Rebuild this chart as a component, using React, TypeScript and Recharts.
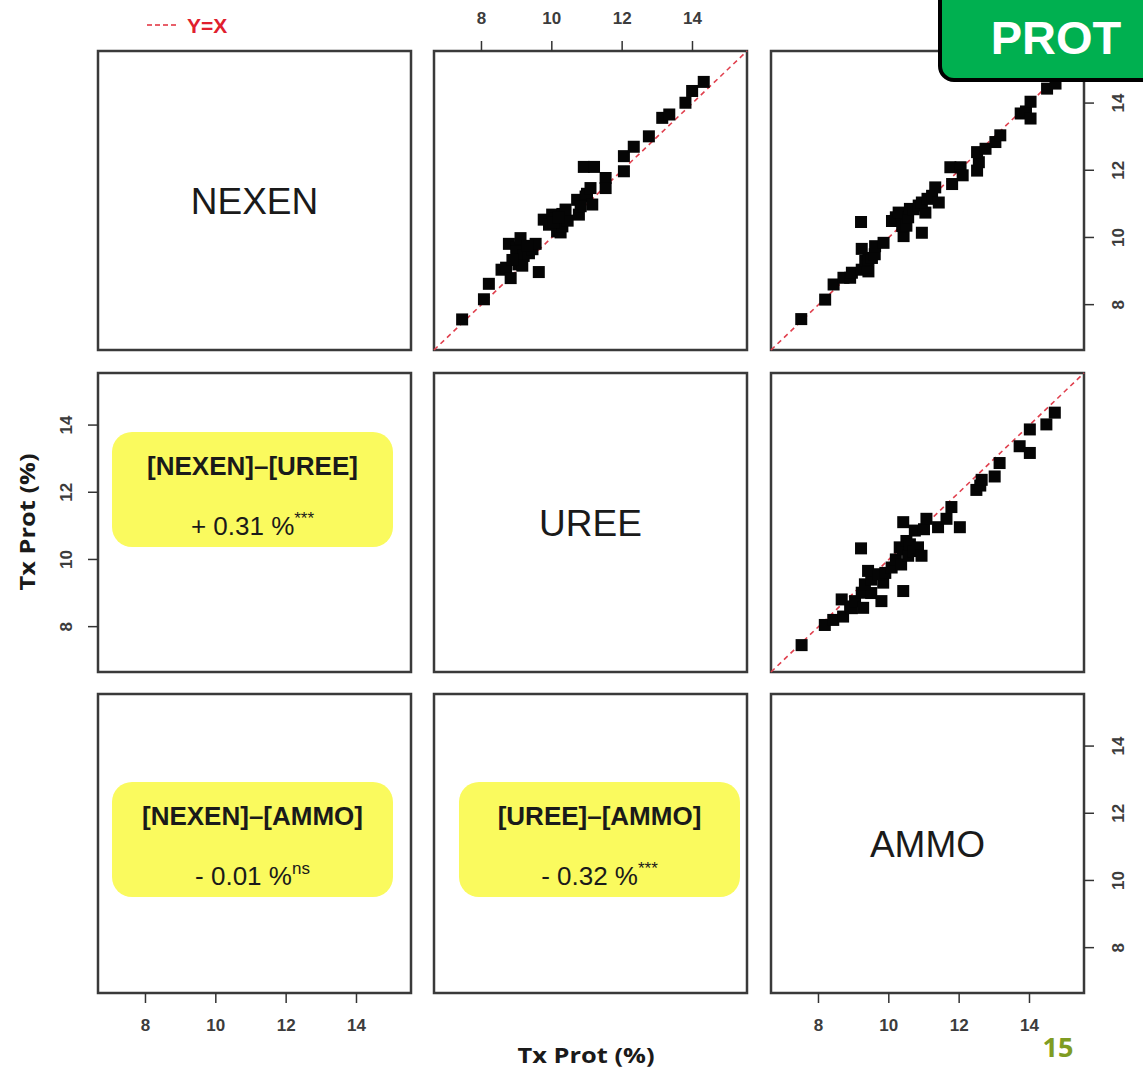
import React from 'react';
import { ScatterChart, Scatter, XAxis, YAxis, ReferenceLine, ReferenceArea } from 'recharts';

// Shared axis range for every panel of the pairs plot (protein rate, %)
const DOMAIN: [number, number] = [6.65, 15.55];
const TICKS = [8, 10, 12, 14];
const VARIABLES = ['NEXEN', 'UREE', 'AMMO'];

// Row 1, column 2: x = UREE, y = NEXEN
const nexenVsUree = [
  { x: 7.45, y: 7.56 }, { x: 8.07, y: 8.16 }, { x: 8.21, y: 8.62 }, { x: 8.57, y: 9.04 },
  { x: 8.7, y: 9.1 }, { x: 8.83, y: 8.79 }, { x: 8.78, y: 9.81 }, { x: 9.0, y: 9.7 },
  { x: 9.11, y: 9.98 }, { x: 8.99, y: 9.58 }, { x: 9.05, y: 9.2 }, { x: 9.2, y: 9.45 },
  { x: 9.16, y: 9.16 }, { x: 8.88, y: 9.33 }, { x: 9.35, y: 9.53 }, { x: 9.45, y: 9.65 },
  { x: 9.54, y: 9.81 }, { x: 9.3, y: 9.75 }, { x: 9.63, y: 8.97 }, { x: 9.77, y: 10.53 },
  { x: 10.01, y: 10.68 }, { x: 10.1, y: 10.55 }, { x: 10.15, y: 10.18 }, { x: 10.25, y: 10.15 },
  { x: 10.3, y: 10.33 }, { x: 10.3, y: 10.7 }, { x: 10.45, y: 10.5 }, { x: 10.39, y: 10.83 },
  { x: 9.92, y: 10.38 }, { x: 10.05, y: 10.45 }, { x: 10.2, y: 10.6 }, { x: 10.77, y: 10.68 },
  { x: 10.72, y: 11.12 }, { x: 10.96, y: 11.22 }, { x: 11.0, y: 11.3 }, { x: 11.1, y: 11.47 },
  { x: 11.15, y: 10.98 }, { x: 10.82, y: 10.93 }, { x: 10.91, y: 12.1 }, { x: 11.2, y: 12.1 },
  { x: 11.53, y: 11.77 }, { x: 11.53, y: 11.47 }, { x: 12.05, y: 11.97 }, { x: 12.05, y: 12.42 },
  { x: 12.33, y: 12.7 }, { x: 12.76, y: 13.01 }, { x: 13.14, y: 13.56 }, { x: 13.34, y: 13.66 },
  { x: 13.8, y: 14.01 }, { x: 13.99, y: 14.36 }, { x: 14.32, y: 14.63 },
];

// Row 1, column 3: x = AMMO, y = NEXEN
const nexenVsAmmo = [
  { x: 7.51, y: 7.57 }, { x: 8.19, y: 8.15 }, { x: 8.43, y: 8.6 }, { x: 8.71, y: 8.8 },
  { x: 8.9, y: 8.8 }, { x: 8.95, y: 8.95 }, { x: 9.23, y: 9.04 }, { x: 9.42, y: 8.99 },
  { x: 9.4, y: 9.1 }, { x: 9.33, y: 9.3 }, { x: 9.42, y: 9.34 }, { x: 9.52, y: 9.39 },
  { x: 9.6, y: 9.5 }, { x: 9.23, y: 9.66 }, { x: 9.61, y: 9.74 }, { x: 9.85, y: 9.84 },
  { x: 9.21, y: 10.46 }, { x: 10.09, y: 10.49 }, { x: 10.2, y: 10.6 }, { x: 10.35, y: 10.5 },
  { x: 10.28, y: 10.74 }, { x: 10.42, y: 10.04 }, { x: 10.38, y: 10.34 }, { x: 10.5, y: 10.35 },
  { x: 10.55, y: 10.6 }, { x: 10.6, y: 10.85 }, { x: 10.71, y: 10.84 }, { x: 10.85, y: 10.95 },
  { x: 10.94, y: 10.14 }, { x: 11.04, y: 10.74 }, { x: 10.94, y: 11.04 }, { x: 11.1, y: 11.15 },
  { x: 11.23, y: 11.24 }, { x: 11.32, y: 11.49 }, { x: 11.42, y: 11.04 }, { x: 11.8, y: 11.59 },
  { x: 11.75, y: 12.09 }, { x: 12.04, y: 12.09 }, { x: 12.1, y: 11.85 }, { x: 12.51, y: 11.99 },
  { x: 12.56, y: 12.24 }, { x: 12.51, y: 12.54 }, { x: 12.75, y: 12.64 }, { x: 13.03, y: 12.84 },
  { x: 13.17, y: 13.04 }, { x: 13.75, y: 13.69 }, { x: 13.9, y: 13.75 }, { x: 14.03, y: 13.54 },
  { x: 14.03, y: 14.04 }, { x: 14.5, y: 14.43 }, { x: 14.74, y: 14.58 }, { x: 15.0, y: 14.95 },
];

// Row 2, column 3: x = AMMO, y = UREE
const ureeVsAmmo = [
  { x: 7.52, y: 7.45 }, { x: 8.18, y: 8.05 }, { x: 8.42, y: 8.2 }, { x: 8.7, y: 8.3 },
  { x: 8.66, y: 8.81 }, { x: 8.9, y: 8.6 }, { x: 8.95, y: 8.55 }, { x: 9.04, y: 8.76 },
  { x: 9.27, y: 8.56 }, { x: 9.23, y: 9.01 }, { x: 9.5, y: 9.0 }, { x: 9.79, y: 8.76 },
  { x: 9.32, y: 9.26 }, { x: 9.5, y: 9.4 }, { x: 9.84, y: 9.31 }, { x: 9.41, y: 9.66 },
  { x: 9.7, y: 9.56 }, { x: 9.9, y: 9.6 }, { x: 9.21, y: 10.33 }, { x: 10.08, y: 9.76 },
  { x: 10.2, y: 10.0 }, { x: 10.35, y: 9.85 }, { x: 10.41, y: 9.06 }, { x: 10.31, y: 10.36 },
  { x: 10.4, y: 10.3 }, { x: 10.5, y: 10.55 }, { x: 10.55, y: 10.11 }, { x: 10.6, y: 10.45 },
  { x: 10.7, y: 10.25 }, { x: 10.83, y: 10.36 }, { x: 10.93, y: 10.11 }, { x: 10.41, y: 11.11 },
  { x: 10.74, y: 10.86 }, { x: 11.0, y: 10.9 }, { x: 11.07, y: 11.21 }, { x: 11.4, y: 10.96 },
  { x: 11.64, y: 11.21 }, { x: 11.78, y: 11.56 }, { x: 12.02, y: 10.96 }, { x: 12.49, y: 12.07 },
  { x: 12.6, y: 12.2 }, { x: 12.64, y: 12.37 }, { x: 13.01, y: 12.47 }, { x: 13.15, y: 12.87 },
  { x: 13.72, y: 13.37 }, { x: 14.01, y: 13.17 }, { x: 14.01, y: 13.87 }, { x: 14.48, y: 14.02 },
  { x: 14.72, y: 14.37 },
];

// Pairwise mean differences shown in the lower triangle
const comparisonLabels = ['[NEXEN]–[UREE]', '[NEXEN]–[AMMO]', '[UREE]–[AMMO]'];
const comparisonDiffs = ['+ 0.31 %', '- 0.01 %', '- 0.32 %'];
const comparisonSignif = ['***', 'ns', '***'];

// Layout of the 3 x 3 grid
const COL_X = [98, 434, 771];
const ROW_Y = [51, 373, 694];
const PANEL_W = 313;
const PANEL_H = 299;
const PAD = 60;
const AX = 40;

const SANS = "Arial, 'Liberation Sans', sans-serif";
const tickStyle = { fontFamily: SANS, fontSize: 17, fontWeight: 700, fill: '#3c3c3c' };

const TopTick = (p: any) => (
  <text x={p.x} y={p.y} dy={-15} textAnchor="middle" {...tickStyle}>{p.payload.value}</text>
);
const BottomTick = (p: any) => (
  <text x={p.x} y={p.y} dy={26} textAnchor="middle" {...tickStyle}>{p.payload.value}</text>
);
const RightTick = (p: any) => {
  const px = p.x + 28;
  return (
    <text x={px} y={p.y} textAnchor="middle" transform={`rotate(-90 ${px} ${p.y})`} {...tickStyle}>
      {p.payload.value}
    </text>
  );
};
const LeftTick = (p: any) => {
  const px = p.x - 14;
  return (
    <text x={px} y={p.y} textAnchor="middle" transform={`rotate(-90 ${px} ${p.y})`} {...tickStyle}>
      {p.payload.value}
    </text>
  );
};

const SquareMark = (p: any) => (
  <rect x={p.cx - 6} y={p.cy - 6} width={12} height={12} fill="#050505" />
);

type PanelProps = {
  row: number;
  col: number;
  data?: { x: number; y: number }[];
  top?: boolean;
  bottom?: boolean;
  left?: boolean;
  right?: boolean;
};

function Panel({ row, col, data, top, bottom, left, right }: PanelProps) {
  const margin = {
    top: PAD - (top ? AX : 0),
    bottom: PAD - (bottom ? AX : 0),
    left: PAD - (left ? AX : 0),
    right: PAD - (right ? AX : 0),
  };
  const showX = !!(top || bottom);
  const showY = !!(left || right);
  return (
    <div style={{ position: 'absolute', left: COL_X[col] - PAD, top: ROW_Y[row] - PAD }}>
      <ScatterChart width={PANEL_W + 2 * PAD} height={PANEL_H + 2 * PAD} margin={margin}>
        <XAxis
          type="number"
          dataKey="x"
          domain={DOMAIN}
          ticks={TICKS}
          allowDataOverflow
          hide={!showX}
          orientation={top ? 'top' : 'bottom'}
          height={AX}
          axisLine={false}
          tickSize={10}
          tickLine={{ stroke: '#333', strokeWidth: 1.5 }}
          tick={top ? TopTick : BottomTick}
        />
        <YAxis
          type="number"
          dataKey="y"
          domain={DOMAIN}
          ticks={TICKS}
          allowDataOverflow
          hide={!showY}
          orientation={left ? 'left' : 'right'}
          width={AX}
          axisLine={false}
          tickSize={10}
          tickLine={{ stroke: '#333', strokeWidth: 1.5 }}
          tick={left ? LeftTick : RightTick}
        />
        <ReferenceArea
          x1={DOMAIN[0]}
          x2={DOMAIN[1]}
          y1={DOMAIN[0]}
          y2={DOMAIN[1]}
          fill="none"
          stroke="#3a3a3a"
          strokeWidth={2.5}
          ifOverflow="visible"
        />
        {data && (
          <Scatter data={data} dataKey="y" isAnimationActive={false} shape={SquareMark} />
        )}
        {data && (
          <ReferenceLine
            segment={[
              { x: DOMAIN[0], y: DOMAIN[0] },
              { x: DOMAIN[1], y: DOMAIN[1] },
            ]}
            stroke="#e0404e"
            strokeWidth={1.6}
            strokeDasharray="5 4"
            ifOverflow="visible"
          />
        )}
      </ScatterChart>
    </div>
  );
}

function ComparisonBox({ row, col, idx }: { row: number; col: number; idx: number }) {
  const left = COL_X[col] + (col === 0 ? 14 : 25);
  const top = ROW_Y[row] + (row === 1 ? 59 : 88);
  const width = 281;
  const cx = left + width / 2;
  return (
    <g>
      <rect x={left} y={top} width={width} height={115} rx={20} fill="#fafa5e" />
      <text x={cx} y={top + 43} textAnchor="middle" fontFamily={SANS} fontWeight={700} fontSize={26} fill="#1a1a1a">
        {comparisonLabels[idx]}
      </text>
      <text x={cx} y={top + 103} textAnchor="middle" fontFamily={SANS} fontSize={26} fill="#1a1a1a">
        {comparisonDiffs[idx]}
        <tspan fontSize={17} dy={-11}>{comparisonSignif[idx]}</tspan>
      </text>
    </g>
  );
}

export default function App() {
  return (
    <div
      style={{
        position: 'absolute',
        left: 0,
        top: 0,
        width: 1143,
        height: 1074,
        background: '#fff',
        overflow: 'hidden',
        fontFamily: SANS,
      }}
    >
      <Panel row={0} col={0} />
      <Panel row={0} col={1} data={nexenVsUree} top />
      <Panel row={0} col={2} data={nexenVsAmmo} right />
      <Panel row={1} col={0} left />
      <Panel row={1} col={1} />
      <Panel row={1} col={2} data={ureeVsAmmo} />
      <Panel row={2} col={0} bottom />
      <Panel row={2} col={1} />
      <Panel row={2} col={2} bottom right />

      <svg
        width={1143}
        height={1074}
        style={{ position: 'absolute', left: 0, top: 0, pointerEvents: 'none' }}
      >
        {/* variable names on the diagonal */}
        {VARIABLES.map((name, i) => (
          <text
            key={name}
            x={COL_X[i] + PANEL_W / 2}
            y={ROW_Y[i] + PANEL_H / 2 + 13}
            textAnchor="middle"
            fontFamily={SANS}
            fontSize={37}
            fill="#1a1a1a"
          >
            {name}
          </text>
        ))}

        <ComparisonBox row={1} col={0} idx={0} />
        <ComparisonBox row={2} col={0} idx={1} />
        <ComparisonBox row={2} col={1} idx={2} />

        {/* legend */}
        <line x1={147} y1={25} x2={178} y2={25} stroke="#e8606a" strokeWidth={2} strokeDasharray="5 3" />
        <text x={187} y={33} fontFamily={SANS} fontWeight={700} fontSize={21} fill="#e0202e">
          Y=X
        </text>

        {/* axis titles */}
        <text
          x={586}
          y={1063}
          textAnchor="middle"
          fontFamily="'Open Sans', sans-serif"
          fontWeight={700}
          fontSize={22}
          textLength={137}
          lengthAdjust="spacingAndGlyphs"
          fill="#1a1a1a"
        >
          Tx Prot (%)
        </text>
        <text
          x={35}
          y={522}
          textAnchor="middle"
          transform="rotate(-90 35 522)"
          fontFamily="'Open Sans', sans-serif"
          fontWeight={700}
          fontSize={22}
          textLength={137}
          lengthAdjust="spacingAndGlyphs"
          fill="#1a1a1a"
        >
          Tx Prot (%)
        </text>

        {/* slide badge and page number */}
        <rect x={940} y={-20} width={230} height={100} rx={14} fill="#00b050" stroke="#000" strokeWidth={4} />
        <text x={1056} y={54} textAnchor="middle" fontFamily={SANS} fontWeight={700} fontSize={47} fill="#fff">
          PROT
        </text>
        <text x={1058} y={1057} textAnchor="middle" fontFamily="'Open Sans', sans-serif" fontWeight={700} fontSize={27} fill="#7f9c22">
          15
        </text>
      </svg>
    </div>
  );
}
